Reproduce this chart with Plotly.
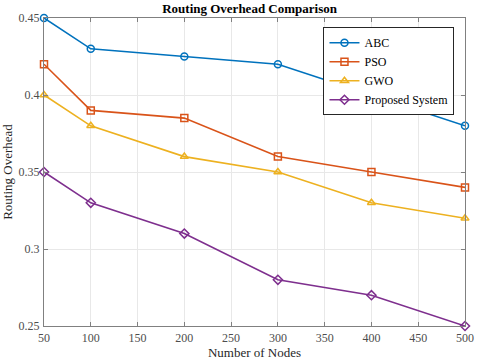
import plotly.graph_objects as go

nodes = [50, 100, 200, 300, 400, 500]
abc = [0.45, 0.43, 0.425, 0.42, 0.40, 0.38]
pso = [0.42, 0.39, 0.385, 0.36, 0.35, 0.34]
gwo = [0.40, 0.38, 0.36, 0.35, 0.33, 0.32]
proposed = [0.35, 0.33, 0.31, 0.28, 0.27, 0.25]

series = [
    ('ABC', abc, '#0072BD', 'circle-open'),
    ('PSO', pso, '#D95319', 'square-open'),
    ('GWO', gwo, '#EDB120', 'triangle-up-open'),
    ('Proposed System', proposed, '#7E2F8E', 'diamond-open'),
]

SERIF = 'Liberation Serif'

fig = go.Figure()
for name, vals, color, sym in series:
    fig.add_trace(go.Scatter(
        x=nodes, y=vals, mode='lines+markers', name=name,
        line=dict(color=color, width=1.6),
        marker=dict(symbol=sym, size=7, line=dict(color=color, width=1.5)),
        cliponaxis=False,
    ))

axis_common = dict(
    showgrid=True, gridcolor='#e8e8e8', gridwidth=1,
    showline=True, linecolor='#808080', linewidth=1, mirror='ticks',
    ticks='inside', ticklen=4, tickcolor='#808080',
    zeroline=False, automargin=False,
    tickfont=dict(family=SERIF, size=12, color='#4d4d4d'),
)

fig.update_layout(
    width=480, height=361,
    margin=dict(l=44, r=15, t=18, b=35),
    paper_bgcolor='white', plot_bgcolor='white',
    font=dict(family=SERIF, color='#262626'),
    title=dict(text='<b>Routing Overhead Comparison</b>', x=0.52, xanchor='center',
               y=0.99, yanchor='top', font=dict(family=SERIF, size=13, color='#000000')),
    xaxis=dict(axis_common, range=[50, 500], tickvals=list(range(50, 501, 50)),
               ticklabelstandoff=1,
               title=dict(text='Number of Nodes', standoff=1,
                          font=dict(family=SERIF, size=13, color='#262626'))),
    yaxis=dict(axis_common, range=[0.25, 0.45],
               tickvals=[0.25, 0.3, 0.35, 0.4, 0.45],
               ticktext=['0.25', '0.3', '0.35', '0.4', '0.45'],
               ticklabelstandoff=1,
               title=dict(text='Routing Overhead', standoff=6,
                          font=dict(family=SERIF, size=13, color='#262626'))),
    legend=dict(x=0.975, y=0.97, xanchor='right', yanchor='top',
                bgcolor='white', bordercolor='#262626', borderwidth=1,
                font=dict(family=SERIF, size=12, color='#000000'),
                itemwidth=30, tracegroupgap=0),
    showlegend=True,
)

# drop the browser's default body margin so the figure sits at the page corner
fig.write_html('out.html', config={'displayModeBar': False},
               post_script="document.body.style.margin='0';")
